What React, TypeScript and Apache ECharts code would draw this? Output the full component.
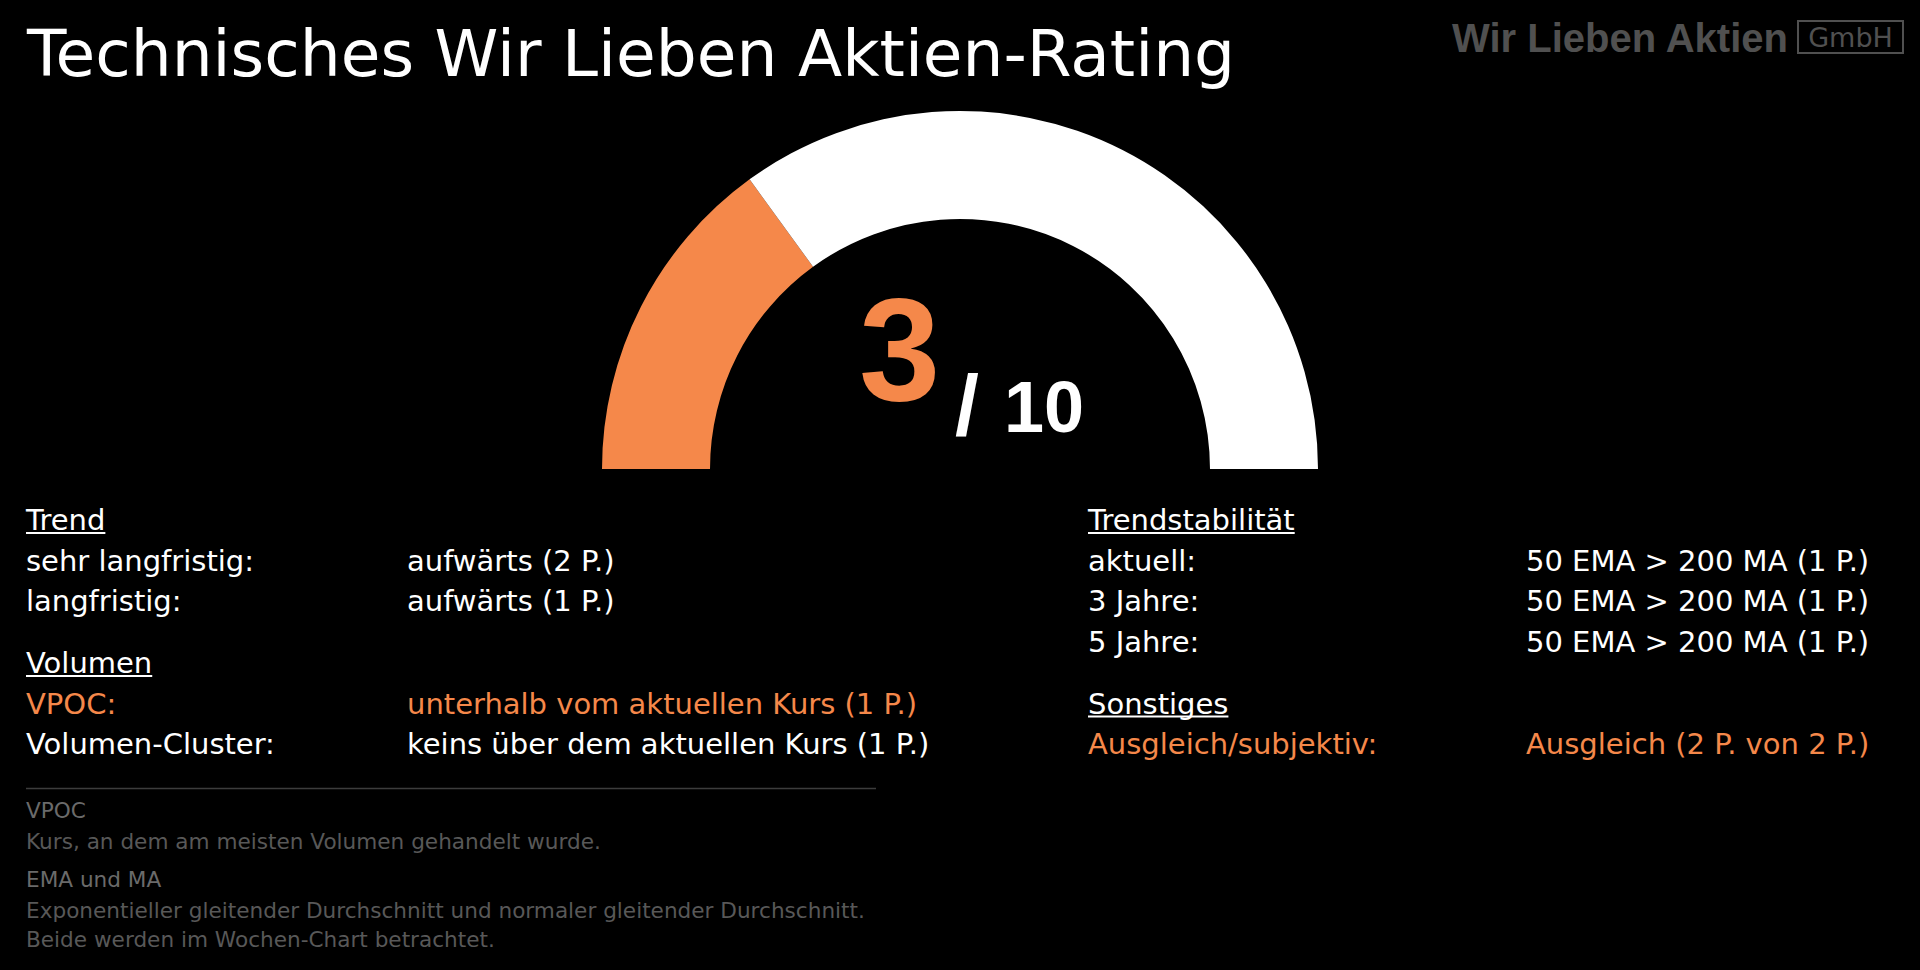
import React, { useEffect, useRef } from 'react';
import * as echarts from 'echarts';

// ---------- data ----------
const TITLE = 'Technisches Wir Lieben Aktien-Rating';
const LOGO_TEXT = 'Wir Lieben Aktien';
const LOGO_BADGE = 'GmbH';

const SCORE = 3;
const MAX_SCORE = 10;

const trendHeader = 'Trend';
const trendLabels = ['sehr langfristig:', 'langfristig:'];
const trendValues = ['aufwärts (2 P.)', 'aufwärts (1 P.)'];
const trendHighlight = [false, false];

const volumeHeader = 'Volumen';
const volumeLabels = ['VPOC:', 'Volumen-Cluster:'];
const volumeValues = ['unterhalb vom aktuellen Kurs (1 P.)', 'keins über dem aktuellen Kurs (1 P.)'];
const volumeHighlight = [true, false];

const stabilityHeader = 'Trendstabilität';
const stabilityLabels = ['aktuell:', '3 Jahre:', '5 Jahre:'];
const stabilityValues = ['50 EMA > 200 MA (1 P.)', '50 EMA > 200 MA (1 P.)', '50 EMA > 200 MA (1 P.)'];
const stabilityHighlight = [false, false, false];

const otherHeader = 'Sonstiges';
const otherLabels = ['Ausgleich/subjektiv:'];
const otherValues = ['Ausgleich (2 P. von 2 P.)'];
const otherHighlight = [true];

const noteTitles = ['VPOC', 'EMA und MA'];
const noteLines = [
  ['Kurs, an dem am meisten Volumen gehandelt wurde.'],
  ['Exponentieller gleitender Durchschnitt und normaler gleitender Durchschnitt.', 'Beide werden im Wochen-Chart betrachtet.'],
];

// ---------- style ----------
const ORANGE = '#F5884A';
const WHITE = '#FFFFFF';
const BODY_FONT = '"DejaVu Sans", sans-serif';
const NUM_FONT = '"Liberation Sans", Arial, sans-serif';
const BODY_SIZE = 29;
const NOTE_SIZE = 21.6;
const ROW_STEP = 40.5;
const SECTION_GAP = 62;

function measure(text: string, font: string): number {
  const c = document.createElement('canvas');
  const ctx = c.getContext('2d');
  if (!ctx) return text.length * 15;
  ctx.font = font;
  return ctx.measureText(text).width;
}

function section(
  header: string,
  labels: string[],
  values: string[],
  highlight: boolean[],
  xLabel: number,
  xValue: number,
  yHeader: number
) {
  const els: any[] = [];
  const font = `${BODY_SIZE}px ${BODY_FONT}`;
  els.push({
    type: 'text',
    x: xLabel,
    y: yHeader,
    style: { text: header, fill: WHITE, font, align: 'left', verticalAlign: 'middle' },
  });
  const w = measure(header, font);
  els.push({
    type: 'line',
    shape: { x1: xLabel, y1: yHeader + 13, x2: xLabel + w, y2: yHeader + 13 },
    style: { stroke: WHITE, lineWidth: 2 },
  });
  labels.forEach((lab, i) => {
    const y = yHeader + ROW_STEP * (i + 1);
    const color = highlight[i] ? ORANGE : WHITE;
    els.push({
      type: 'text',
      x: xLabel,
      y,
      style: { text: lab, fill: color, font, align: 'left', verticalAlign: 'middle' },
    });
    els.push({
      type: 'text',
      x: xValue,
      y,
      style: { text: values[i], fill: color, font, align: 'left', verticalAlign: 'middle' },
    });
  });
  return { els, endY: yHeader + ROW_STEP * labels.length };
}

export default function App() {
  const ref = useRef<HTMLDivElement>(null);

  useEffect(() => {
    if (!ref.current) return;
    document.body.style.margin = '0';
    document.body.style.background = '#000';
    const chart = echarts.init(ref.current, null, { renderer: 'svg' });

    const graphics: any[] = [];

    // title
    graphics.push({
      type: 'text',
      x: 27,
      y: 53,
      style: { text: TITLE, fill: WHITE, font: `64.6px ${BODY_FONT}`, align: 'left', verticalAlign: 'middle' },
    });

    // logo
    graphics.push({
      type: 'text',
      x: 1452,
      y: 38,
      style: { text: LOGO_TEXT, fill: '#505050', font: `bold 40px ${NUM_FONT}`, align: 'left', verticalAlign: 'middle' },
    });
    graphics.push({
      type: 'rect',
      shape: { x: 1798, y: 21, width: 105, height: 32 },
      style: { fill: 'none', stroke: '#505050', lineWidth: 2 },
    });
    graphics.push({
      type: 'text',
      x: 1850.5,
      y: 37.5,
      style: { text: LOGO_BADGE, fill: '#505050', font: `27px ${BODY_FONT}`, align: 'center', verticalAlign: 'middle' },
    });

    // score text
    graphics.push({
      type: 'text',
      x: 859,
      y: 349,
      style: { text: String(SCORE), fill: ORANGE, font: `bold 146px ${NUM_FONT}`, align: 'left', verticalAlign: 'middle' },
    });
    graphics.push({
      type: 'text',
      x: 955,
      y: 405,
      style: { text: '/', fill: WHITE, font: `bold 86px ${NUM_FONT}`, align: 'left', verticalAlign: 'middle' },
    });
    graphics.push({
      type: 'text',
      x: 1004,
      y: 407,
      style: { text: String(MAX_SCORE), fill: WHITE, font: `bold 72px ${NUM_FONT}`, align: 'left', verticalAlign: 'middle' },
    });

    // sections
    const t = section(trendHeader, trendLabels, trendValues, trendHighlight, 26, 407, 520);
    const v = section(volumeHeader, volumeLabels, volumeValues, volumeHighlight, 26, 407, t.endY + SECTION_GAP);
    const s = section(stabilityHeader, stabilityLabels, stabilityValues, stabilityHighlight, 1088, 1526, 520);
    const o = section(otherHeader, otherLabels, otherValues, otherHighlight, 1088, 1526, s.endY + SECTION_GAP);
    graphics.push(...t.els, ...v.els, ...s.els, ...o.els);

    // divider
    graphics.push({
      type: 'line',
      shape: { x1: 26, y1: 788.5, x2: 876, y2: 788.5 },
      style: { stroke: '#3c3c3c', lineWidth: 1.5 },
    });

    // notes
    let y = 810;
    noteTitles.forEach((nt, i) => {
      graphics.push({
        type: 'text',
        x: 26,
        y,
        style: { text: nt, fill: '#6a6a6a', font: `${NOTE_SIZE}px ${BODY_FONT}`, align: 'left', verticalAlign: 'middle' },
      });
      y += 31;
      noteLines[i].forEach((ln, j) => {
        if (j > 0) y += 29;
        graphics.push({
          type: 'text',
          x: 26,
          y,
          style: { text: ln, fill: '#585858', font: `${NOTE_SIZE}px ${BODY_FONT}`, align: 'left', verticalAlign: 'middle' },
        });
      });
      y += 38;
    });

    chart.setOption({
      animation: false,
      backgroundColor: '#000000',
      series: [
        {
          type: 'pie',
          center: [960, 469],
          radius: [250, 358],
          startAngle: 180,
          clockwise: true,
          silent: true,
          label: { show: false },
          labelLine: { show: false },
          emphasis: { disabled: true },
          itemStyle: { borderWidth: 0 },
          data: [
            { value: SCORE, itemStyle: { color: ORANGE } },
            { value: MAX_SCORE - SCORE, itemStyle: { color: WHITE } },
            { value: MAX_SCORE, itemStyle: { color: 'rgba(0,0,0,0)' } },
          ],
        },
      ],
      graphic: graphics,
    });

    return () => {
      chart.dispose();
    };
  }, []);

  return (
    <div
      ref={ref}
      style={{ position: 'fixed', left: 0, top: 0, width: 1920, height: 970, background: '#000' }}
    />
  );
}
